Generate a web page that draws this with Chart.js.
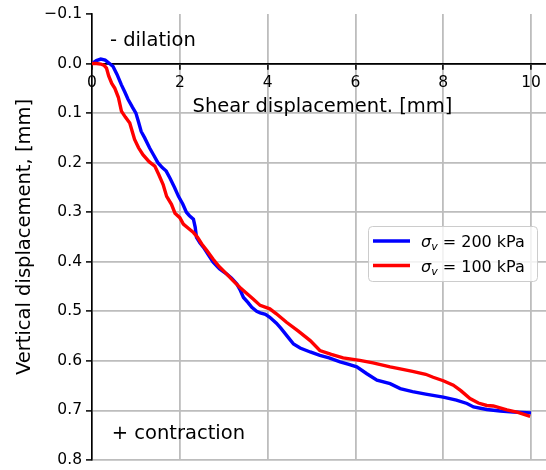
<!DOCTYPE html>
<html>
<head>
<meta charset="utf-8">
<script src="https://cdn.jsdelivr.net/npm/chart.js@4.4.0/dist/chart.umd.min.js"></script>
<style>
    html, body { margin: 0; padding: 0; background: #fff; overflow: hidden; }
    #wrap { width: 546px; height: 470px; overflow: hidden; }
</style>
</head>
<body>
<div id="wrap"><canvas id="chart" width="553" height="470"></canvas></div>
<script>
var xTicks = [0, 2, 4, 6, 8, 10],
    yTicks = [-0.1, 0, 0.1, 0.2, 0.3, 0.4, 0.5, 0.6, 0.7, 0.8],
    yTickLabels = ["\u22120.1", "0.0", "0.1", "0.2", "0.3", "0.4", "0.5", "0.6", "0.7", "0.8"],
    xTitle = "Shear displacement. [mm]",
    yTitle = "Vertical displacement, [mm]",
    dilationText = "- dilation",
    contractionText = "+ contraction",
    seriesStress = ["200 kPa", "100 kPa"];

// sigma_v = 200 kPa
var load200X = [0, 0.1, 0.2, 0.3, 0.4, 0.48, 0.57, 0.67, 0.75, 0.82, 0.92, 1.0, 1.06, 1.12, 1.2, 1.31, 1.4, 1.5, 1.6, 1.69,
                1.78, 1.88, 1.97, 2.07, 2.15, 2.22, 2.31, 2.35, 2.38, 2.46, 2.54, 2.65, 2.76, 2.9, 3.07, 3.18, 3.3, 3.38, 3.45, 3.55,
                3.64, 3.75, 3.83, 3.95, 4.05, 4.2, 4.3, 4.4, 4.5, 4.59, 4.74, 4.97, 5.19, 5.4, 5.65, 5.85, 6.03, 6.26, 6.49, 6.79,
                7.02, 7.3, 7.6, 8.0, 8.3, 8.54, 8.69, 8.99, 9.3, 9.6, 9.8, 10.0];
var load200Y = [0, -0.006, -0.009, -0.007, 0.0, 0.006, 0.022, 0.043, 0.058, 0.072, 0.088, 0.100, 0.118, 0.137, 0.150, 0.170, 0.184, 0.200, 0.210, 0.217,
                0.232, 0.250, 0.268, 0.284, 0.300, 0.307, 0.314, 0.330, 0.351, 0.362, 0.371, 0.386, 0.401, 0.414, 0.425, 0.433, 0.445, 0.458, 0.472, 0.482,
                0.492, 0.500, 0.503, 0.506, 0.512, 0.524, 0.534, 0.545, 0.556, 0.566, 0.574, 0.582, 0.589, 0.594, 0.602, 0.607, 0.612, 0.626, 0.639, 0.646,
                0.656, 0.662, 0.667, 0.673, 0.679, 0.686, 0.693, 0.698, 0.701, 0.703, 0.704, 0.705];

// sigma_v = 100 kPa
var load100X = [0, 0.1, 0.2, 0.28, 0.33, 0.38, 0.45, 0.52, 0.6, 0.67, 0.76, 0.86, 0.92, 0.97, 1.06, 1.16, 1.3, 1.43, 1.52, 1.62,
                1.70, 1.81, 1.89, 2.0, 2.08, 2.2, 2.31, 2.4, 2.5, 2.62, 2.76, 2.9, 3.07, 3.2, 3.37, 3.5, 3.67, 3.83, 4.05, 4.2,
                4.43, 4.7, 4.97, 5.19, 5.45, 5.72, 6.1, 6.4, 6.79, 7.02, 7.3, 7.6, 7.77, 8.0, 8.23, 8.4, 8.61, 8.8, 8.99, 9.14,
                9.45, 9.7, 9.98];
var load100Y = [0, 0, 0.001, 0.004, 0.009, 0.025, 0.040, 0.050, 0.068, 0.096, 0.108, 0.120, 0.138, 0.153, 0.170, 0.184, 0.198, 0.207, 0.224, 0.244,
                0.268, 0.284, 0.302, 0.311, 0.324, 0.333, 0.341, 0.350, 0.364, 0.378, 0.395, 0.410, 0.425, 0.437, 0.452, 0.462, 0.475, 0.488, 0.495, 0.505,
                0.522, 0.540, 0.559, 0.579, 0.587, 0.594, 0.599, 0.604, 0.612, 0.616, 0.621, 0.627, 0.633, 0.640, 0.649, 0.660, 0.676, 0.685, 0.690, 0.691,
                0.699, 0.704, 0.712];

function toPoints(xs, ys) {
    return xs.map(function(x, i) { return {x: x, y: ys[i]}; });
}

Chart.defaults.font.family = "'DejaVu Sans', sans-serif";
Chart.defaults.color = "#000";

/* texts inside the axes and the legend box, drawn on top of the lines */
var overlay = {
    id: "overlay",
    afterDatasetsDraw: function(chart) {
        var ctx = chart.ctx,
            a = chart.chartArea,
            xs = chart.scales.x,
            ys = chart.scales.y;

        ctx.save();
        ctx.fillStyle = "#000";
        ctx.textBaseline = "alphabetic";

        ctx.font = "19.5px 'DejaVu Sans'";
        ctx.textAlign = "center";
        ctx.fillText(xTitle, (a.left + a.right) / 2, ys.getPixelForValue(0) + 48);

        ctx.textAlign = "left";
        ctx.fillText(dilationText, xs.getPixelForValue(0.41), 45.5);
        ctx.fillText(contractionText, xs.getPixelForValue(0.45), 438.5);

        // legend
        var bx = 368, by = 226, bw = 169, bh = 55;
        ctx.beginPath();
        ctx.roundRect(bx + 0.5, by + 0.5, bw, bh, 4);
        ctx.fillStyle = "rgba(255,255,255,0.8)";
        ctx.fill();
        ctx.strokeStyle = "#cccccc";
        ctx.lineWidth = 1;
        ctx.stroke();

        var rows = [chart.data.datasets[1], chart.data.datasets[0]];
        rows.forEach(function(ds, i) {
            var ly = by + 15 + i * 24.5;
            ctx.beginPath();
            ctx.moveTo(373, ly);
            ctx.lineTo(410, ly);
            ctx.strokeStyle = ds.borderColor;
            ctx.lineWidth = 3.5;
            ctx.stroke();

            var tx = 421, base = ly + 6;
            ctx.fillStyle = "#000";
            ctx.font = "italic 16px 'DejaVu Sans'";
            ctx.fillText("\u03c3", tx, base);
            tx += ctx.measureText("\u03c3").width;
            ctx.font = "italic 11px 'DejaVu Sans'";
            ctx.fillText("v", tx, base + 3);
            tx += ctx.measureText("v").width;
            ctx.font = "16px 'DejaVu Sans'";
            ctx.fillText(" = " + ds.label, tx, base);
        });
        ctx.restore();
    }
};

new Chart(document.getElementById("chart"), {
    type: "line",
    data: {
        datasets: [
            {
                label: seriesStress[1],
                data: toPoints(load100X, load100Y),
                borderColor: "#ff0000",
                borderWidth: 3.4,
                pointRadius: 0,
                tension: 0,
                fill: false
            },
            {
                label: seriesStress[0],
                data: toPoints(load200X, load200Y),
                borderColor: "#0000ff",
                borderWidth: 3.4,
                pointRadius: 0,
                tension: 0,
                fill: false
            }
        ]
    },
    options: {
        responsive: false,
        animation: false,
        devicePixelRatio: 1,
        layout: {padding: {top: 14, right: 0, bottom: 10, left: 0}},
        plugins: {legend: {display: false}, tooltip: {enabled: false}},
        scales: {
            x: {
                type: "linear",
                position: {y: 0},
                min: 0,
                max: 10.5,
                afterBuildTicks: function(scale) {
                    scale.ticks = xTicks.map(function(v) { return {value: v}; });
                },
                grid: {color: "#bdbdbd", lineWidth: 1.8, tickColor: "#000", tickLength: 5, tickWidth: 1.5},
                border: {color: "#000", width: 1.8},
                ticks: {font: {size: 15.5}, color: "#000", padding: 5, maxRotation: 0,
                    callback: function(v) { return String(v); }}
            },
            y: {
                type: "linear",
                reverse: true,
                min: -0.1,
                max: 0.8,
                afterBuildTicks: function(scale) {
                    scale.ticks = yTicks.map(function(v) { return {value: v}; });
                },
                afterFit: function(scale) {
                    scale.width = 92;
                    scale.paddingTop = 0;
                    scale.paddingBottom = 0;
                },
                grid: {
                    color: function(c) { return c.index === 0 ? "rgba(0,0,0,0)" : "#bdbdbd"; },
                    lineWidth: 1.8, tickColor: "#000", tickLength: 6, tickWidth: 1.5
                },
                border: {color: "#000", width: 1.6},
                ticks: {font: {size: 15.5}, color: "#000", padding: 4,
                    callback: function(v, i) { return yTickLabels[i]; }},
                title: {display: true, text: yTitle, font: {size: 19.5}, color: "#000", padding: {top: 13, bottom: 0}}
            }
        }
    },
    plugins: [overlay]
});
</script>
</body>
</html>
